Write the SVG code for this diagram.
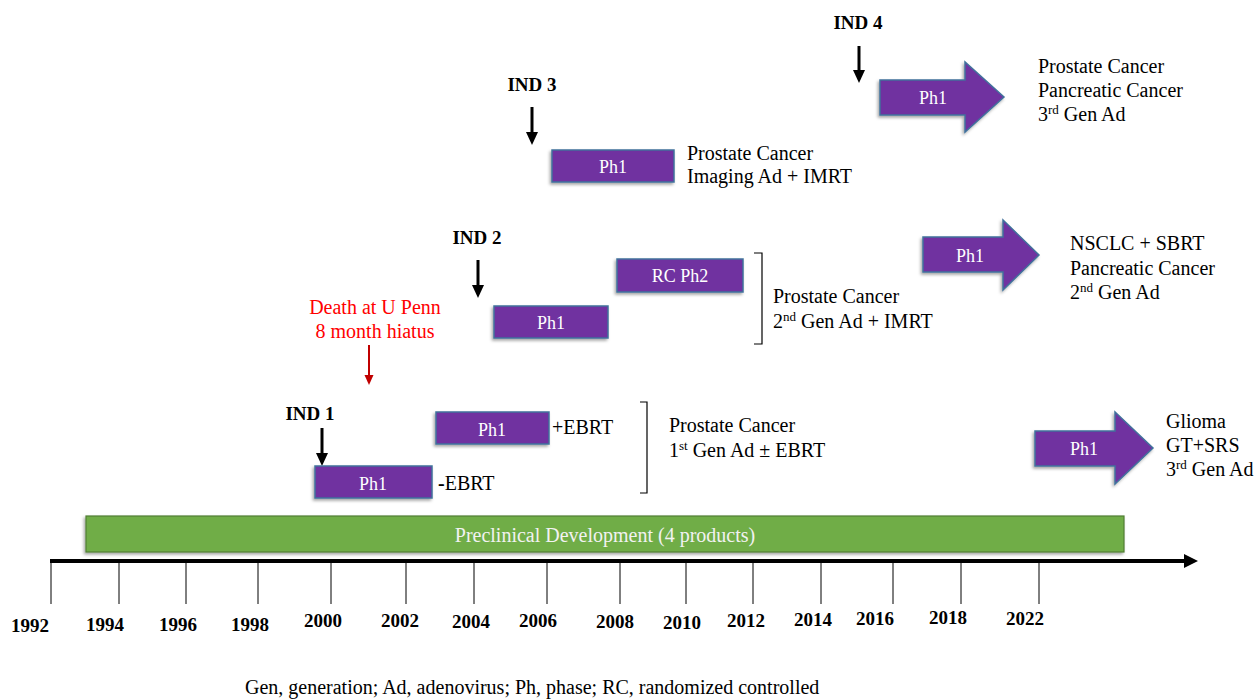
<svg xmlns="http://www.w3.org/2000/svg" width="1257" height="699" viewBox="0 0 1257 699">
<style>
text{font-family:"Liberation Serif","Times New Roman",serif;font-size:20px;fill:#000}
.yr{font-weight:bold;font-size:19px;text-anchor:middle}
.ind{font-weight:bold;font-size:19px;text-anchor:middle}
.ph{fill:#fff;font-size:18px;text-anchor:middle}
.box{fill:#7030A0;stroke:#41719C;stroke-width:1.5}
.tick{stroke:#000;stroke-width:1}
.brk{fill:none;stroke:#000;stroke-width:1.2}
.red{fill:#FF0000;text-anchor:middle}
sup,.sup{font-size:13px}
</style>
<defs>
<filter id="sh" x="-10%" y="-20%" width="125%" height="150%">
<feDropShadow dx="-1.5" dy="2" stdDeviation="1.5" flood-color="#000" flood-opacity="0.35"/>
</filter>
</defs>

<g id="timeline">
<line x1="50" y1="561" x2="1186" y2="561" stroke="#000" stroke-width="4"/>
<polygon points="1184,554 1198,561 1184,568" fill="#000"/>
<g class="tick">
<line x1="51" y1="561" x2="51" y2="604"/>
<line x1="119" y1="561" x2="119" y2="604"/>
<line x1="186" y1="561" x2="186" y2="604"/>
<line x1="258" y1="561" x2="258" y2="604"/>
<line x1="331" y1="561" x2="331" y2="604"/>
<line x1="406" y1="561" x2="406" y2="604"/>
<line x1="474" y1="561" x2="474" y2="604"/>
<line x1="547" y1="561" x2="547" y2="604"/>
<line x1="620" y1="561" x2="620" y2="604"/>
<line x1="686" y1="561" x2="686" y2="604"/>
<line x1="753" y1="561" x2="753" y2="604"/>
<line x1="821" y1="561" x2="821" y2="604"/>
<line x1="893" y1="561" x2="893" y2="604"/>
<line x1="961" y1="561" x2="961" y2="604"/>
<line x1="1039" y1="561" x2="1039" y2="604"/>
</g>
<text class="yr" x="30" y="632">1992</text>
<text class="yr" x="105" y="631">1994</text>
<text class="yr" x="178" y="631">1996</text>
<text class="yr" x="250" y="631">1998</text>
<text class="yr" x="323" y="627">2000</text>
<text class="yr" x="400" y="627">2002</text>
<text class="yr" x="471" y="628">2004</text>
<text class="yr" x="538" y="627">2006</text>
<text class="yr" x="615" y="628">2008</text>
<text class="yr" x="682" y="629">2010</text>
<text class="yr" x="746" y="627">2012</text>
<text class="yr" x="813" y="626">2014</text>
<text class="yr" x="875" y="625">2016</text>
<text class="yr" x="948" y="624">2018</text>
<text class="yr" x="1025" y="625">2022</text>
</g>

<g id="preclinical">
<rect x="86" y="516" width="1038" height="36" fill="#70AD47" stroke="#507E32" stroke-width="1.2" filter="url(#sh)"/>
<text x="605" y="542" text-anchor="middle" fill="#F2F2F2" style="fill:#F2F2F2">Preclinical Development (4 products)</text>
</g>

<g id="connectors">
<g fill="#000" stroke="#000">
<line x1="322" y1="428" x2="322" y2="455" stroke-width="3"/>
<polygon points="316,453 328,453 322,466" stroke="none"/>
<line x1="478" y1="260" x2="478" y2="287" stroke-width="3"/>
<polygon points="472,285 484,285 478,298" stroke="none"/>
<line x1="532" y1="107" x2="532" y2="134" stroke-width="3"/>
<polygon points="526,132 538,132 532,145" stroke="none"/>
<line x1="859" y1="46" x2="859" y2="72" stroke-width="3"/>
<polygon points="853,70 865,70 859,83" stroke="none"/>
</g>
<line x1="369" y1="345" x2="369" y2="376" stroke="#C00000" stroke-width="2"/>
<polygon points="364.5,375 373.5,375 369,385" fill="#C00000"/>
<path class="brk" d="M640,402 H647 V493 H640"/>
<path class="brk" d="M754,253 H762 V344 H754"/>
</g>

<g id="ind1">
<text class="ind" x="310" y="420">IND 1</text>
<rect class="box" x="315" y="466" width="117" height="32" filter="url(#sh)"/>
<text class="ph" x="373" y="490">Ph1</text>
<text x="438" y="490"><tspan font-weight="bold">-</tspan>EBRT</text>
</g>

<g id="ind1-ebrt">
<rect class="box" x="436" y="412" width="113" height="32" filter="url(#sh)"/>
<text class="ph" x="492" y="436">Ph1</text>
<text x="552" y="434">+EBRT</text>
</g>

<g id="ind1-label">
<text x="669" y="432">Prostate Cancer</text>
<text x="669" y="457">1<tspan class="sup" dy="-7">st</tspan><tspan dy="7"> Gen Ad ± EBRT</tspan></text>
</g>

<g id="death">
<text class="red" x="375" y="314" style="fill:#FF0000">Death at U Penn</text>
<text class="red" x="375" y="338" style="fill:#FF0000">8 month hiatus</text>
</g>

<g id="ind2">
<text class="ind" x="477" y="244">IND 2</text>
<rect class="box" x="494" y="306" width="114" height="32" filter="url(#sh)"/>
<text class="ph" x="551" y="329">Ph1</text>
</g>

<g id="ind2-rc">
<rect class="box" x="617" y="259" width="126" height="33" filter="url(#sh)"/>
<text class="ph" x="680" y="282">RC Ph2</text>
</g>

<g id="ind2-label">
<text x="773" y="303">Prostate Cancer</text>
<text x="773" y="328">2<tspan class="sup" dy="-7">nd</tspan><tspan dy="7"> Gen Ad + IMRT</tspan></text>
</g>

<g id="ind3">
<text class="ind" x="532" y="91">IND 3</text>
<rect class="box" x="552" y="150" width="122" height="32" filter="url(#sh)"/>
<text class="ph" x="613" y="173">Ph1</text>
<text x="687" y="160">Prostate Cancer</text>
<text x="687" y="183">Imaging Ad + IMRT</text>
</g>

<g id="ind4">
<text class="ind" x="858" y="29">IND 4</text>
<polygon class="box" points="880,80 965,80 965,62 1004,97 965,132 965,115 880,115" filter="url(#sh)"/>
<text class="ph" x="933" y="104">Ph1</text>
<text x="1038" y="73">Prostate Cancer</text>
<text x="1038" y="97">Pancreatic Cancer</text>
<text x="1038" y="121">3<tspan class="sup" dy="-7">rd</tspan><tspan dy="7"> Gen Ad</tspan></text>
</g>

<g id="nsclc">
<polygon class="box" points="923,237 1003,237 1003,220 1039,255 1003,290 1003,272 923,272" filter="url(#sh)"/>
<text class="ph" x="970" y="262">Ph1</text>
<text x="1070" y="250">NSCLC + SBRT</text>
<text x="1070" y="275">Pancreatic Cancer</text>
<text x="1070" y="299">2<tspan class="sup" dy="-7">nd</tspan><tspan dy="7"> Gen Ad</tspan></text>
</g>

<g id="glioma">
<polygon class="box" points="1035,431 1115,431 1115,412 1153,448 1115,484 1115,466 1035,466" filter="url(#sh)"/>
<text class="ph" x="1084" y="455">Ph1</text>
<text x="1166" y="428">Glioma</text>
<text x="1166" y="452">GT+SRS</text>
<text x="1166" y="476">3<tspan class="sup" dy="-7">rd</tspan><tspan dy="7"> Gen Ad</tspan></text>
</g>

<g id="footer">
<text x="245" y="694">Gen, generation; Ad, adenovirus; Ph, phase; RC, randomized controlled</text>
</g>
</svg>
